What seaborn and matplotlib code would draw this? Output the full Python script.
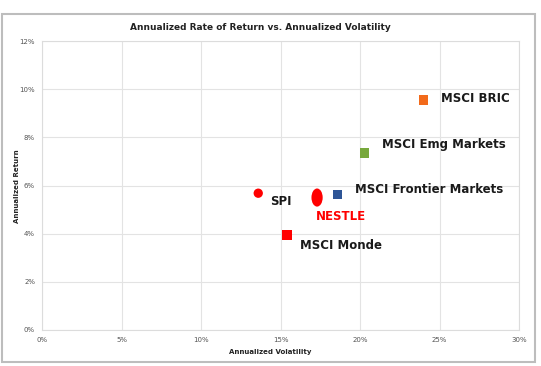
import numpy as np
import pandas as pd
import matplotlib
matplotlib.use('Agg')
import matplotlib.pyplot as plt
from matplotlib.path import Path
from matplotlib.patches import Rectangle
import seaborn as sns

# Data
names = ['MSCI BRIC', 'MSCI Emg Markets', 'MSCI Frontier Markets', 'NESTLE', 'SPI', 'MSCI Monde']
volatility = [24.0, 20.3, 18.6, 17.3, 13.6, 15.4]
returns = [9.55, 7.35, 5.62, 5.5, 5.68, 3.95]
colors = ['#f26a1b', '#77a83c', '#2e5596', '#ff0000', '#ff0000', '#ff0000']
label_colors = ['#1a1a1a', '#1a1a1a', '#1a1a1a', '#ff0000', '#1a1a1a', '#1a1a1a']
x_ticks = [0, 5, 10, 15, 20, 25, 30]
y_ticks = [0, 2, 4, 6, 8, 10, 12]

df = pd.DataFrame({'name': names, 'vol': volatility, 'ret': returns})

# ellipse marker for Nestle (taller than wide)
circ = Path.unit_circle()
ellipse = Path(circ.vertices * np.array([0.62, 1.0]), circ.codes)
markers = {'MSCI BRIC': 's', 'MSCI Emg Markets': 's', 'MSCI Frontier Markets': 's',
           'NESTLE': ellipse, 'SPI': 'o', 'MSCI Monde': 's'}
sizes = {'MSCI BRIC': 45, 'MSCI Emg Markets': 45, 'MSCI Frontier Markets': 45,
         'NESTLE': 170, 'SPI': 45, 'MSCI Monde': 45}

sns.set_style('white')
plt.rcParams['font.family'] = ['DejaVu Sans']

fig = plt.figure(figsize=(5.41, 3.66), dpi=100)
ax = fig.add_axes([42 / 541, 1 - 330 / 366, (519 - 42) / 541, (330 - 41) / 366])

# outer chart frame
fig.patches.append(Rectangle((2 / 541, 1 - 362 / 366), 533 / 541, 348 / 366,
                             transform=fig.transFigure, fill=False,
                             edgecolor='#bdbdbd', linewidth=1.5))

for i, row in df.iterrows():
    sns.scatterplot(x=[row['vol']], y=[row['ret']], ax=ax, color=colors[i],
                    marker=markers[row['name']], s=sizes[row['name']],
                    edgecolor='none', legend=False)

# point labels
offsets = {'MSCI BRIC': (1.1, 0.05), 'MSCI Emg Markets': (1.1, 0.35),
           'MSCI Frontier Markets': (1.1, 0.2), 'NESTLE': (-0.1, -0.8),
           'SPI': (0.75, -0.35), 'MSCI Monde': (0.85, -0.45)}
for i, row in df.iterrows():
    dx, dy = offsets[row['name']]
    ax.text(row['vol'] + dx, row['ret'] + dy, row['name'], fontsize=8.5,
            fontweight='bold', color=label_colors[i], va='center', ha='left')

ax.set_xlim(0, 30)
ax.set_ylim(0, 12)
ax.set_xticks(x_ticks)
ax.set_yticks(y_ticks)
ax.set_xticklabels([f'{t}%' for t in x_ticks])
ax.set_yticklabels([f'{t}%' for t in y_ticks])
ax.tick_params(labelsize=5, colors='#555555', length=0, pad=5)
ax.grid(True, color='#e3e3e3', linewidth=0.8)
for sp in ax.spines.values():
    sp.set_color('#dcdcdc')
    sp.set_linewidth(0.8)

ax.set_xlabel('')
ax.set_ylabel('')
fig.text(270 / 541, 1 - 352 / 366, 'Annualized Volatility', fontsize=5,
         fontweight='bold', ha='center', va='center', color='#222222')
fig.text(17 / 541, 1 - 186 / 366, 'Annualized Return', fontsize=5,
         fontweight='bold', ha='center', va='center', rotation=90, color='#222222')
fig.text(260 / 541, 1 - 27 / 366, 'Annualized Rate of Return vs. Annualized Volatility',
         fontsize=6.5, fontweight='bold', ha='center', va='center', color='#222222')

fig.savefig('out.png', dpi=100)
